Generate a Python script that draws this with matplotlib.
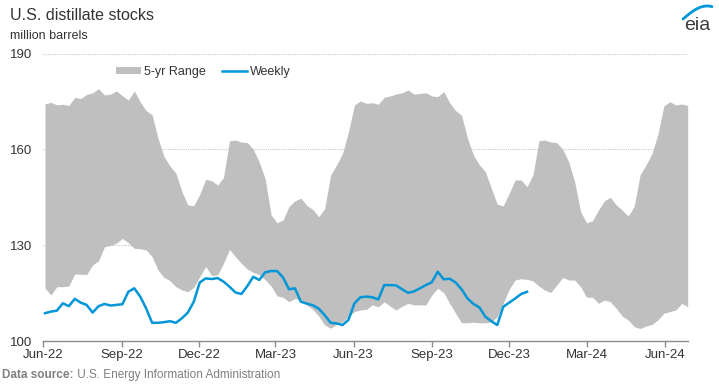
import numpy as np
import pandas as pd
import matplotlib
matplotlib.use("Agg")
import matplotlib.pyplot as plt
import matplotlib.dates as mdates
from matplotlib.patches import Patch
from matplotlib.lines import Line2D

plt.rcParams['font.family'] = ['Liberation Sans', 'DejaVu Sans']

# ---------------- data (million barrels) ----------------
range_start = "2022-06-03"
range_upper = [
    174.2, 174.7, 173.9, 174.1, 173.7, 176.3, 175.9, 177.2, 177.7, 179.0,
    177.0, 177.3, 178.3, 176.8, 175.4, 178.3, 174.8, 172.1, 170.8, 163.4,
    157.7, 154.8, 152.5, 146.8, 142.6, 142.4, 145.9, 150.6, 150.2, 148.8,
    151.2, 162.7, 162.9, 162.3, 162.1, 160.0, 156.0, 150.8, 139.4, 137.0,
    137.9, 142.1, 143.9, 144.7, 142.4, 141.2, 138.9, 141.5, 152.0, 155.1,
    158.7, 165.5, 173.9, 175.1, 174.4, 174.6, 174.1, 176.3, 176.7, 177.3,
    177.7, 178.6, 177.3, 177.5, 177.7, 176.7, 176.5, 178.1, 174.6, 172.1,
    170.7, 163.4, 158.2, 155.1, 153.0, 147.8, 142.8, 142.3, 146.2, 150.4,
    150.4, 148.3, 152.0, 162.7, 162.9, 162.3, 162.1, 160.0, 156.1, 149.9,
    140.5, 137.0, 137.6, 141.0, 143.9, 145.0, 142.6, 141.0, 139.1, 142.1,
    152.0, 155.1, 158.7, 164.8, 173.6, 174.9, 173.9, 174.2, 173.7,
]
range_lower = [
    116.5, 114.4, 117.0, 117.0, 117.2, 121.0, 120.9, 120.8, 123.8, 125.1,
    129.5, 129.9, 130.6, 132.1, 130.8, 129.0, 128.9, 128.5, 126.4, 122.2,
    119.9, 118.9, 117.0, 116.0, 115.4, 116.8, 120.1, 123.3, 120.5, 120.7,
    124.3, 128.7, 126.4, 124.3, 122.5, 121.5, 120.8, 119.2, 117.2, 114.1,
    113.7, 112.3, 113.3, 112.8, 111.3, 109.9, 107.8, 105.0, 104.0, 105.2,
    106.0, 107.6, 109.2, 109.7, 109.9, 111.3, 110.7, 112.3, 110.9, 109.7,
    110.9, 111.8, 111.3, 111.3, 111.3, 114.4, 116.5, 115.1, 111.8, 108.7,
    105.7, 105.7, 105.9, 105.7, 105.7, 106.0, 107.6, 111.8, 116.2, 119.1,
    119.5, 119.3, 118.8, 117.2, 115.9, 115.2, 117.5, 119.9, 119.1, 119.1,
    117.0, 113.7, 113.7, 111.8, 112.8, 112.3, 110.2, 107.8, 106.6, 104.5,
    103.9, 104.7, 105.2, 106.6, 108.7, 109.2, 109.7, 111.8, 110.7,
]
weekly_start = "2022-06-03"
weekly = [
    108.7, 109.2, 109.5, 111.8, 110.9, 113.2, 112.0, 111.3, 108.9, 110.9,
    111.6, 111.1, 111.3, 111.5, 115.4, 116.5, 113.9, 110.2, 105.7, 105.7,
    105.9, 106.2, 105.7, 107.1, 108.9, 112.3, 118.3, 119.6, 119.4, 119.7,
    118.6, 117.0, 115.2, 114.7, 117.2, 120.1, 119.1, 121.5, 121.9, 121.9,
    119.9, 116.2, 116.5, 112.3, 111.7, 111.2, 110.1, 108.1, 105.7, 105.5,
    105.0, 106.6, 111.8, 113.7, 113.9, 113.7, 113.0, 117.5, 117.5, 117.4,
    116.2, 115.1, 115.5, 116.5, 117.5, 118.4, 121.7, 119.3, 119.5, 118.3,
    116.2, 113.3, 111.6, 110.5, 107.6, 106.2, 105.0, 110.7, 112.0, 113.3,
    114.7, 115.4,
]
y_ticks = [100, 130, 160, 190]
title = "U.S. distillate stocks"
units = "million barrels"
source_bold = "Data source:"
source_rest = " U.S. Energy Information Administration"
legend_labels = ["5-yr Range", "Weekly"]

range_dates = pd.date_range(range_start, periods=len(range_upper), freq="7D")
weekly_dates = pd.date_range(weekly_start, periods=len(weekly), freq="7D")

# ---------------- figure ----------------
W, H = 719, 384
fig = plt.figure(figsize=(W / 100, H / 100), dpi=100)
left, right, top, bottom = 43.3, 687.7, 53.5, 341.0
ax = fig.add_axes([left / W, 1 - bottom / H, (right - left) / W, (bottom - top) / H])

gray = "#bfbfbf"
blue = "#0096d7"

ax.fill_between(range_dates, range_lower, range_upper, color=gray, lw=0, zorder=2)
ax.plot(weekly_dates, weekly, color=blue, lw=1.8, zorder=3, solid_joinstyle="round")

ax.set_ylim(100, 190)
ax.set_yticks(y_ticks)
ax.set_xlim(pd.Timestamp("2022-06-01"), pd.Timestamp("2024-06-28"))
ax.xaxis.set_major_locator(mdates.MonthLocator(bymonth=[3, 6, 9, 12], bymonthday=1))
ax.xaxis.set_major_formatter(mdates.DateFormatter("%b-%y"))

for s in ["left", "right", "top"]:
    ax.spines[s].set_visible(False)
ax.spines["bottom"].set_color("#8c8c8c")
ax.spines["bottom"].set_linewidth(1.0)
ax.spines["bottom"].set_zorder(4)

ax.grid(axis="y", color="#c8c8c8", linestyle=(0, (1, 1)), linewidth=0.8, zorder=1)
ax.set_axisbelow(True)
ax.tick_params(axis="y", length=0, pad=8, labelsize=9.5, labelcolor="#333333")
ax.tick_params(axis="x", length=4, width=1, color="#8c8c8c", direction="out",
               pad=2, labelsize=9.5, labelcolor="#333333")

# legend
handles = [Patch(facecolor=gray, edgecolor="none"),
           Line2D([0], [0], color=blue, lw=1.8)]
leg = ax.legend(handles, legend_labels, loc="center", bbox_to_anchor=(0.248, 0.936),
                ncol=2, frameon=False, fontsize=9, handlelength=2.0, handleheight=0.55,
                handletextpad=0.25, columnspacing=1.3, borderaxespad=0)
for t in leg.get_texts():
    t.set_color("#333333")

# titles
fig.text(10 / W, 1 - 16 / H, title, fontsize=11.5, color="#333333", va="center", ha="left")
fig.text(10 / W, 1 - 36 / H, units, fontsize=9, color="#333333", va="center", ha="left")

# source
t1 = fig.text(2 / W, 1 - 375 / H, source_bold, fontsize=8.5, color="#7f7f7f",
              fontweight="bold", va="center", ha="left")
fig.canvas.draw()
bb = t1.get_window_extent()
fig.text(bb.x1 / W, 1 - 375 / H, source_rest, fontsize=8.5, color="#7f7f7f",
         va="center", ha="left")

# eia logo
fig.text(697 / W, 1 - 25 / H, "eia", fontsize=14, color="#3a3a3a",
         va="center", ha="center")
th = np.linspace(0, 1, 40)
lx = 683 + 29 * th
ly = 19 - 12 * np.sin(th * np.pi * 0.62) / np.sin(np.pi * 0.62) ** 0 * 1.0
ly = 19 - 13 * np.sin(th * np.pi * 0.6)
fig.add_artist(Line2D(lx / W, 1 - ly / H, transform=fig.transFigure, color=blue, lw=2.0,
                      solid_capstyle="round"))

fig.savefig("out.png", dpi=100)
